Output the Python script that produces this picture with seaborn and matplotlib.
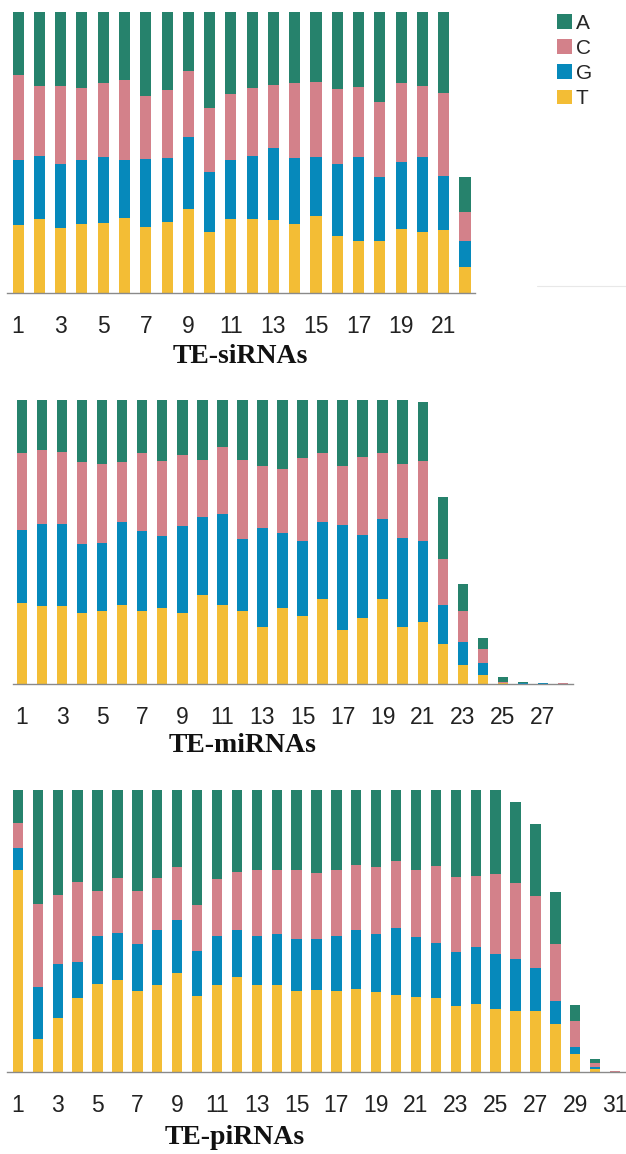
import numpy as np
import pandas as pd
import matplotlib.pyplot as plt
import seaborn as sns
from matplotlib.lines import Line2D

# ======================================================
# DATA: nucleotide composition (%) per read position
# ======================================================
bases = ["A", "C", "G", "T"]
base_colors = ["#26826C", "#D3818A", "#0689BB", "#F3BD35"]

# TE-siRNAs (22 positions)
si_A = [22.3, 26.2, 26.2, 26.9, 25.3, 24.2, 30.0, 27.8, 20.9, 34.0, 29.1,
        27.2, 26.1, 25.3, 25.0, 27.3, 26.8, 32.1, 25.0, 26.2, 28.8, 12.5]
si_C = [30.2, 25.1, 27.8, 25.5, 26.3, 28.6, 22.3, 24.2, 23.6, 22.8, 23.6,
        24.1, 22.4, 26.6, 26.6, 26.8, 24.7, 26.7, 28.2, 25.4, 29.5, 10.3]
si_G = [23.1, 22.3, 23.0, 23.1, 23.4, 20.6, 24.2, 22.8, 25.6, 21.6, 21.0,
        22.4, 25.5, 23.7, 21.1, 25.7, 30.1, 22.8, 23.8, 26.7, 19.3, 9.3]
si_T = [24.3, 26.3, 23.0, 24.4, 25.0, 26.6, 23.5, 25.3, 29.9, 21.6, 26.3,
        26.3, 26.0, 24.4, 27.3, 20.2, 18.4, 18.4, 22.9, 21.7, 22.3, 9.1]

# TE-miRNAs (28 positions)
mi_A = [18.8, 17.7, 18.2, 22.0, 22.5, 22.0, 18.8, 21.5, 19.2, 21.0, 16.6, 21.0,
        23.1, 24.3, 20.4, 18.8, 23.1, 19.8, 18.8, 22.6, 20.9, 21.9, 9.4, 3.9,
        1.8, 0.1, 0.1, 0.1]
mi_C = [27.0, 25.8, 25.3, 28.6, 27.7, 21.0, 27.5, 26.4, 25.3, 20.3, 23.7, 28.0,
        22.0, 22.6, 29.2, 24.3, 21.0, 27.5, 23.1, 25.9, 28.1, 16.1, 11.0, 5.0,
        0.2, 0.0, 0.0, 0.4]
mi_G = [25.9, 29.2, 29.2, 24.3, 24.0, 29.2, 27.9, 25.4, 30.4, 27.5, 31.9, 25.2,
        34.7, 26.4, 26.4, 27.0, 36.8, 29.3, 28.1, 31.3, 28.6, 13.7, 7.9, 4.3,
        0.3, 0.4, 0.4, 0.0]
mi_T = [28.4, 27.3, 27.3, 25.1, 25.8, 27.8, 25.8, 26.7, 25.1, 31.2, 27.8, 25.8,
        20.2, 26.7, 24.0, 30.0, 19.1, 23.3, 30.0, 20.2, 21.8, 14.1, 6.8, 3.0,
        0.2, 0.1, 0.0, 0.0]

# TE-piRNAs (31 positions)
pi_A = [11.8, 40.5, 37.4, 32.7, 35.7, 31.0, 35.7, 31.1, 27.1, 40.9, 31.5, 29.0,
        28.4, 28.4, 28.3, 29.3, 28.4, 26.5, 27.2, 25.3, 28.5, 27.1, 30.9, 30.4,
        29.7, 28.7, 25.6, 18.6, 5.7, 1.3, 0.0]
pi_C = [8.9, 29.3, 24.3, 28.3, 16.1, 19.5, 18.8, 18.7, 18.8, 16.1, 20.4, 20.8,
        23.2, 22.7, 24.6, 23.3, 23.3, 23.3, 23.9, 23.8, 23.8, 27.0, 26.4, 25.2,
        28.5, 26.9, 25.7, 20.0, 9.3, 1.5, 0.4]
pi_G = [7.5, 18.3, 19.0, 12.8, 16.9, 16.9, 16.6, 19.2, 19.0, 15.9, 17.2, 16.6,
        17.4, 17.9, 18.5, 18.3, 19.5, 20.6, 20.7, 23.7, 21.1, 19.5, 19.4, 20.2,
        19.3, 18.3, 15.0, 8.4, 2.4, 0.7, 0.0]
pi_T = [71.8, 11.8, 19.3, 26.3, 31.2, 32.5, 28.9, 31.0, 35.0, 27.1, 31.0, 33.6,
        31.0, 31.0, 28.6, 29.0, 28.8, 29.6, 28.2, 27.2, 26.6, 26.4, 23.3, 24.1,
        22.5, 21.8, 21.8, 16.9, 6.3, 1.1, 0.0]


def make_df(A, C, G, T):
    n = len(A)
    pos = np.arange(1, n + 1)
    return pd.DataFrame({
        "pos": np.tile(pos, 4),
        "base": np.repeat(bases, n),
        "pct": np.concatenate([A, C, G, T]),
    })


# ======================================================
# FIGURE
# ======================================================
W, H = 626, 1154
sns.set_style("white")
plt.rcParams["font.family"] = ["Liberation Sans", "DejaVu Sans"]

fig = plt.figure(figsize=(W / 100, H / 100), dpi=100)

# (data, title, xlim, axes box in px [left, top, right, bottom], title centre px)
panels = [
    (make_df(si_A, si_C, si_G, si_T), "TE-siRNAs", (0.48, 22.47), (7, 12, 475, 293), (240, 356)),
    (make_df(mi_A, mi_C, mi_G, mi_T), "TE-miRNAs", (0.55, 28.5), (13, 400, 573, 684), (243, 745)),
    (make_df(pi_A, pi_C, pi_G, pi_T), "TE-piRNAs", (0.45, 31.5), (7, 790, 625, 1072), (235, 1137)),
]

for i, (df, title, xlim, box, tpos) in enumerate(panels):
    l, t, r, b = box
    ax = fig.add_axes([l / W, 1 - b / H, (r - l) / W, (b - t) / H])
    sns.histplot(data=df, x="pos", hue="base", weights="pct",
                 hue_order=bases, palette=base_colors,
                 multiple="stack", discrete=True, shrink=0.52,
                 alpha=1, linewidth=0, ax=ax, legend=(i == 0))
    n = df["pos"].max()
    ax.set_xlim(*xlim)
    ax.set_ylim(0, 100)
    ax.set_xticks(range(1, n + 1, 2))
    ax.set_yticks([])
    ax.set_ylabel("")
    ax.tick_params(axis="x", length=0, pad=16, labelsize=16.5, colors="#222222")
    for s in ["left", "top", "right"]:
        ax.spines[s].set_visible(False)
    ax.spines["bottom"].set_color("#8a8a8a")
    ax.spines["bottom"].set_linewidth(1.0)

    ax.set_xlabel(title, fontfamily="Liberation Serif", fontweight="bold",
                  fontsize=20, color="#111111")
    ax.xaxis.set_label_coords(tpos[0] / W, 1 - tpos[1] / H, transform=fig.transFigure)
    ax.xaxis.label.set_verticalalignment("center")

    if i == 0:
        sns.move_legend(ax, "upper left", bbox_to_anchor=(557 / W, 1 - 14 / H),
                        bbox_transform=fig.transFigure, frameon=False, title=None,
                        fontsize=15, handlelength=0.7, handleheight=0.7,
                        handletextpad=0.2, labelspacing=0.29,
                        borderpad=0, borderaxespad=0)

# faint stray rule next to the first panel
fig.add_artist(Line2D([537 / W, 1.0], [1 - 286 / H] * 2, color="#e8e8e8", lw=0.8))

plt.savefig("out.png", dpi=100)
